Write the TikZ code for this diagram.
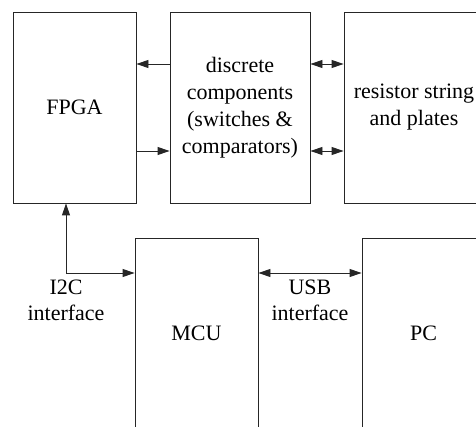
\documentclass[tikz,border=0pt]{standalone}
\usepackage{fontspec}
\setmainfont{Liberation Serif}
\usetikzlibrary{arrows.meta}
\begin{document}
\begin{tikzpicture}[x=1pt,y=-1pt,
  box/.style={draw=black!85, line width=0.9pt, minimum width=123pt, minimum height=191pt, inner sep=0pt, align=center, font=\fontsize{22}{27}\selectfont, text=black},
  widebox/.style={box, minimum width=140pt},
  lbl/.style={align=center, font=\fontsize{22}{26}\selectfont, inner sep=0pt, text=black},
  conn/.style={line width=0.9pt, draw=black!85},
  tipend/.style={-{Triangle[length=12pt,width=8pt]}},
  tipboth/.style={{Triangle[length=12pt,width=8pt]}-{Triangle[length=12pt,width=8pt]}}
]
\useasboundingbox (0,0) rectangle (476,427);
\clip (0,0) rectangle (476,427);
\node[box] (fpga) at (74.5,107.5) {FPGA};
\node[widebox] (disc) at (240,107.5) {discrete\\components\\(switches \&\\comparators)};
\node[widebox] (res) at (414,107.5) {resistor string\\and plates};
\node[box] (mcu) at (196.5,333.5) {MCU};
\node[box] (pc) at (423.5,333.5) {PC};
\coordinate (ya) at (0,64);
\coordinate (yb) at (0,151);
\coordinate (i2c) at (66,273);
\draw[conn,tipend] (disc.west |- ya) -- (fpga.east |- ya);
\draw[conn,tipend] (fpga.east |- yb) -- (disc.west |- yb);
\draw[conn,tipboth] (disc.east |- ya) -- (res.west |- ya);
\draw[conn,tipboth] (disc.east |- yb) -- (res.west |- yb);
\draw[conn,tipboth] (fpga.south -| i2c) |- (mcu.west |- i2c);
\draw[conn,tipboth] (mcu.east |- i2c) -- (pc.west |- i2c);
\node[lbl] (i2clbl) at (66,300) {I2C\\interface};
\node[lbl] (usblbl) at (310,300) {USB\\interface};
\end{tikzpicture}
\end{document}
